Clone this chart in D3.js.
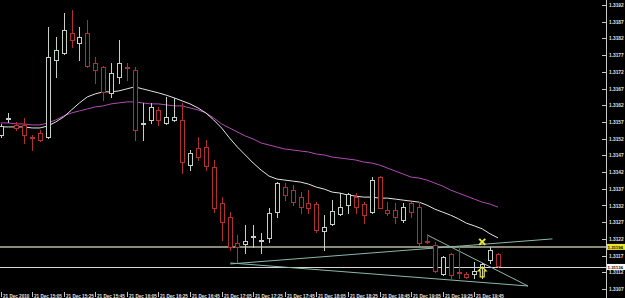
<!DOCTYPE html>
<html><head><meta charset="utf-8">
<script src="https://cdn.jsdelivr.net/npm/d3@7"></script>
<style>html,body{margin:0;padding:0;background:#000;overflow:hidden}</style>
</head><body>
<svg id="c" width="625" height="298"></svg>
<script>
// ---- data (EURUSD M5, 21 Dec 2010) ----
const times = "14:45 14:50 14:55 15:00 15:05 15:10 15:15 15:20 15:25 15:30 15:35 15:40 15:45 15:50 15:55 16:00 16:05 16:10 16:15 16:20 16:25 16:30 16:35 16:40 16:45 16:50 16:55 17:00 17:05 17:10 17:15 17:20 17:25 17:30 17:35 17:40 17:45 17:50 17:55 18:00 18:05 18:10 18:15 18:20 18:25 18:30 18:35 18:40 18:45 18:50 18:55 19:00 19:05 19:10 19:15 19:20 19:25 19:30 19:35 19:40 19:45 19:50 19:55 20:00".split(" ");
const open  = [1.31531,1.31579,1.31561,1.31561,1.31525,1.31537,1.31525,1.31755,1.31776,1.31836,1.31806,1.31836,1.31746,1.31734,1.31657,1.31704,1.31734,1.31725,1.31564,1.31576,1.31606,1.31567,1.31576,1.31576,1.31441,1.31492,1.31495,1.31435,1.31327,1.31285,1.31208,1.31205,1.31226,1.31214,1.31223,1.31300,1.31375,1.31366,1.31345,1.31327,1.31324,1.31244,1.31264,1.31294,1.31321,1.31345,1.31324,1.31300,1.31405,1.31306,1.31306,1.31276,1.31327,1.31315,1.31214,1.31202,1.31115,1.31175,1.31121,1.31115,1.31115,1.31136,1.31157,1.31175];
const high  = [1.31564,1.31597,1.31570,1.31582,1.31531,1.31546,1.31854,1.31824,1.31896,1.31905,1.31854,1.31875,1.31764,1.31736,1.31746,1.31815,1.31746,1.31734,1.31627,1.31627,1.31615,1.31645,1.31642,1.31627,1.31486,1.31525,1.31516,1.31456,1.31345,1.31300,1.31232,1.31261,1.31261,1.31238,1.31312,1.31390,1.31387,1.31381,1.31360,1.31366,1.31330,1.31291,1.31336,1.31357,1.31357,1.31357,1.31330,1.31405,1.31407,1.31330,1.31327,1.31327,1.31330,1.31330,1.31232,1.31211,1.31168,1.31177,1.31196,1.31121,1.31151,1.31148,1.31196,1.31177];
const low   = [1.31525,1.31570,1.31546,1.31507,1.31486,1.31513,1.31522,1.31704,1.31774,1.31794,1.31755,1.31734,1.31687,1.31636,1.31645,1.31687,1.31696,1.31516,1.31516,1.31567,1.31561,1.31565,1.31574,1.31417,1.31426,1.31456,1.31426,1.31300,1.31217,1.31187,1.31151,1.31178,1.31196,1.31178,1.31211,1.31285,1.31336,1.31321,1.31297,1.31297,1.31241,1.31187,1.31261,1.31291,1.31297,1.31297,1.31267,1.31298,1.31315,1.31291,1.31267,1.31270,1.31285,1.31202,1.31208,1.31121,1.31113,1.31103,1.31103,1.31103,1.31103,1.31103,1.31148,1.31136];
const close = [1.31558,1.31581,1.31552,1.31531,1.31523,1.31516,1.31764,1.31785,1.31845,1.31815,1.31824,1.31736,1.31725,1.31660,1.31716,1.31746,1.31732,1.31546,1.31567,1.31615,1.31576,1.31585,1.31585,1.31450,1.31477,1.31465,1.31438,1.31312,1.31270,1.31196,1.31196,1.31214,1.31228,1.31216,1.31297,1.31387,1.31351,1.31330,1.31315,1.31312,1.31247,1.31255,1.31303,1.31315,1.31354,1.31315,1.31291,1.31396,1.31313,1.31297,1.31285,1.31315,1.31300,1.31208,1.31212,1.31123,1.31166,1.31112,1.31119,1.31106,1.31124,1.31145,1.31187,1.31138];
const maFast = [1.31555,1.31555,1.31555,1.31555,1.31552,1.31552,1.31558,1.31570,1.31585,1.31606,1.31627,1.31645,1.31654,1.31660,1.31660,1.31663,1.31669,1.31675,1.31669,1.31663,1.31657,1.31650,1.31642,1.31633,1.31624,1.31612,1.31597,1.31576,1.31552,1.31522,1.31495,1.31471,1.31447,1.31426,1.31408,1.31399,1.31396,1.31393,1.31390,1.31384,1.31375,1.31369,1.31360,1.31357,1.31351,1.31348,1.31345,1.31345,1.31342,1.31342,1.31339,1.31336,1.31333,1.31330,1.31321,1.31309,1.31300,1.31291,1.31280,1.31267,1.31259,1.31250,1.31235,1.31223];
const maSlow = [1.31567,1.31567,1.31564,1.31564,1.31561,1.31561,1.31567,1.31576,1.31588,1.31597,1.31603,1.31609,1.31615,1.31618,1.31624,1.31627,1.31630,1.31630,1.31627,1.31624,1.31624,1.31621,1.31618,1.31618,1.31612,1.31606,1.31597,1.31582,1.31564,1.31552,1.31540,1.31528,1.31519,1.31507,1.31501,1.31495,1.31489,1.31486,1.31483,1.31480,1.31474,1.31471,1.31465,1.31462,1.31459,1.31456,1.31450,1.31447,1.31441,1.31432,1.31423,1.31414,1.31405,1.31402,1.31396,1.31387,1.31378,1.31366,1.31357,1.31348,1.31339,1.31330,1.31324,1.31315];
const yTicks = [1.3192,1.3187,1.3182,1.3177,1.3172,1.3167,1.3162,1.3157,1.3152,1.3147,1.3142,1.3137,1.3132,1.3127,1.3122,1.3117,1.3112,1.3107];
const xTickTimes  = ["14:45","15:05","15:25","15:45","16:05","16:25","16:45","17:05","17:25","17:45","18:05","18:25","18:45","19:05","19:25","19:45"];
const xTickLabels = ["21 Dec 2010","21 Dec 15:05","21 Dec 15:25","21 Dec 15:45","21 Dec 16:05","21 Dec 16:25","21 Dec 16:45","21 Dec 17:05","21 Dec 17:25","21 Dec 17:45","21 Dec 18:05","21 Dec 18:25","21 Dec 18:45","21 Dec 19:05","21 Dec 19:25","21 Dec 19:45"];
const hLevels = [1.31196, 1.31136];
const trendStartBar   = [29.1, 29.1, 54];
const trendStartPrice = [1.31145, 1.31148, 1.31232];
const trendEndBar     = [69.9, 66.8, 66.8];
const trendEndPrice   = [1.31220, 1.31079, 1.31079];
const signalTime = "19:50";
const signalCrossPrice = 1.31211;
const signalArrowPrice = 1.31121;

// ---- drawing ----
const svg = d3.select("#c");
svg.append("rect").attr("width",625).attr("height",298).attr("fill","#000");
const x = d3.scaleLinear().domain([0, times.length-1]).range([0.5, 498]);
const y = d3.scaleLinear().domain([1.3107, 1.3192]).range([289, 5]);
const FONT = "'Liberation Sans', Arial, sans-serif";
const plot = svg.append("g");

// horizontal levels
const hColors = ["#8a8a78", "#d8d8d8"], hWidths = [2, 1];
hLevels.forEach((p,k) => {
  const yy = Math.round(y(p)) + (hWidths[k]==1 ? 0.5 : 0);
  plot.append("line").attr("x1",0).attr("x2",606).attr("y1",yy).attr("y2",yy)
    .attr("stroke",hColors[k]).attr("stroke-width",hWidths[k]);
});

// trend lines
trendStartBar.forEach((b,k) => {
  plot.append("line").attr("x1",x(b)).attr("y1",y(trendStartPrice[k]))
    .attr("x2",x(trendEndBar[k])).attr("y2",y(trendEndPrice[k]))
    .attr("stroke","#8ab8ae").attr("stroke-width",1);
});

// moving averages
const lineGen = arr => d3.line().x((d,i)=>x(i)).y(d=>y(d)).curve(d3.curveLinear)(arr);
plot.append("path").attr("d",lineGen(maSlow)).attr("fill","none").attr("stroke","#b44ab4").attr("stroke-width",1);
plot.append("path").attr("d",lineGen(maFast)).attr("fill","none").attr("stroke","#e4e4e4").attr("stroke-width",1);

// candles
const bull = "#c4d0ca", bear = "#b03030";
times.forEach((t,i) => {
  const cx = Math.round(x(i)) + 0.5;
  const o = open[i], c = close[i], h = high[i], l = low[i];
  const col = c >= o ? bull : bear;
  const yt = Math.round(y(Math.max(o,c))), yb = Math.round(y(Math.min(o,c)));
  const g = plot.append("g").attr("stroke",col).attr("shape-rendering","crispEdges");
  g.append("line").attr("x1",cx).attr("x2",cx).attr("y1",Math.round(y(h))).attr("y2",yt);
  g.append("line").attr("x1",cx).attr("x2",cx).attr("y1",yb).attr("y2",Math.round(y(l))+1);
  if (yb - yt < 1) {
    g.append("line").attr("x1",cx-2.5).attr("x2",cx+2.5).attr("y1",yt+0.5).attr("y2",yt+0.5);
  } else {
    g.append("rect").attr("x",cx-2).attr("y",yt+0.5).attr("width",4).attr("height",yb-yt)
      .attr("fill","#000").attr("stroke-width",1);
  }
});

// signal markers
const sx = x(times.indexOf(signalTime));
const sy = y(signalCrossPrice);
plot.append("path").attr("d",`M${sx-3},${sy-3}L${sx+3},${sy+3}M${sx+3},${sy-3}L${sx-3},${sy+3}`)
  .attr("stroke","#e8e830").attr("stroke-width",2).attr("fill","none");
const ay = y(signalArrowPrice);
plot.append("path").attr("d",`M${sx},${ay-5}L${sx+4},${ay-1}L${sx+2},${ay-1}L${sx+2},${ay+5}L${sx-2},${ay+5}L${sx-2},${ay-1}L${sx-4},${ay-1}Z`)
  .attr("stroke","#e8e830").attr("stroke-width",1.2).attr("fill","none");

// right price axis
const ax = svg.append("g");
ax.append("line").attr("x1",606.5).attr("x2",606.5).attr("y1",0).attr("y2",298).attr("stroke","#c8c8c8");
const yAxis = d3.axisRight(y).tickValues(yTicks).tickSize(0).tickPadding(2.5).tickFormat(d3.format(".4f"));
const yg = ax.append("g").attr("transform","translate(606.5,0)").call(yAxis);
yg.select(".domain").remove();
yg.selectAll("text").attr("fill","#e0e0e0").attr("font-size","4.8px").attr("font-family",FONT).attr("font-weight","bold");
yTicks.forEach(v => ax.append("line").attr("x1",602).attr("x2",606).attr("y1",Math.round(y(v))+0.5).attr("y2",Math.round(y(v))+0.5).attr("stroke","#c8c8c8"));

// level price boxes
const boxFill = ["#e8e830", "#ffffff"];
hLevels.forEach((p,k) => {
  const yy = y(p);
  ax.append("rect").attr("x",607).attr("y",yy-3).attr("width",18).attr("height",6).attr("fill",boxFill[k]);
  ax.append("text").attr("x",607.5).attr("y",yy+1.7).attr("fill","#000").attr("font-size","4.4px")
    .attr("font-family",FONT).attr("font-weight","bold").text(d3.format(".5f")(p));
});

// bottom time axis
const bx = svg.append("g");
xTickTimes.forEach((t,k) => {
  const tx = Math.round(x(times.indexOf(t))) + 0.5;
  bx.append("line").attr("x1",tx).attr("x2",tx).attr("y1",292).attr("y2",297).attr("stroke","#c8c8c8");
  bx.append("text").attr("x",tx+1.5).attr("y",297.5).attr("fill","#e0e0e0").attr("font-size","4.6px")
    .attr("font-family",FONT).attr("font-weight","bold").text(xTickLabels[k]);
});
</script>
</body></html>
